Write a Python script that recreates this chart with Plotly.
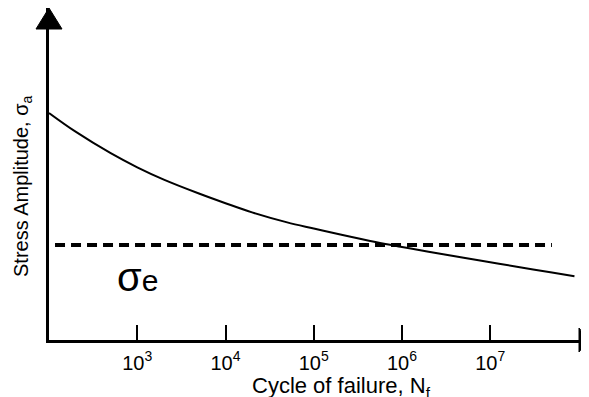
import numpy as np
import plotly.graph_objects as go

# S-N curve (cycles, stress amplitude in arbitrary units)
cycles = [1e2, 2e2, 5e2, 1e3, 2e3, 5e3, 1e4, 2e4, 5e4, 1e5, 2e5, 5e5,
          1e6, 2e6, 5e6, 1e7, 2e7, 5e7, 9e7]
stress = [227, 208.3, 186.8, 172.7, 160.4, 146.5, 136.8, 127.6, 117.6, 111.5,
          105.5, 98.0, 93.0, 88.3, 82.3, 77.8, 73.3, 67.5, 63.8]

# Endurance limit (dashed line)
endurance_limit = 95
endurance_cycles = [1.17e2, 5.0e7]

# Tick labels
tick_vals = [1e3, 1e4, 1e5, 1e6, 1e7]
tick_text = ["10<sup>3</sup>", "10<sup>4</sup>", "10<sup>5</sup>",
             "10<sup>6</sup>", "10<sup>7</sup>"]

FONT = "Arial, Liberation Sans, Helvetica, sans-serif"

fig = go.Figure()
fig.add_trace(go.Scatter(
    x=cycles, y=stress, mode="lines",
    line=dict(color="black", width=2, shape="spline", smoothing=1.0),
    hoverinfo="skip", showlegend=False))
fig.add_trace(go.Scatter(
    x=endurance_cycles, y=[endurance_limit, endurance_limit], mode="lines",
    line=dict(color="black", width=4, dash="10px,6px"),
    hoverinfo="skip", showlegend=False))

# page body has an 8px margin; the figure is sized to fit the window
OFF = 8
W, H = 589 - OFF, 397 - OFF
L, R, T = 49 - OFF, 0, 8 - OFF
pw = W - L - R
ph = 332
B = H - T - ph


def px(xp):
    return (xp - OFF - L) / pw


def py(yp):
    return (T + ph - (yp - OFF)) / ph


fig.update_layout(
    width=W, height=H,
    margin=dict(l=L, r=R, t=T, b=B, pad=0),
    paper_bgcolor="white", plot_bgcolor="white",
    font=dict(family=FONT, color="black", size=15),
    xaxis=dict(type="log", range=[2, 2 + pw / 88.25],
               tickvals=tick_vals, ticktext=tick_text,
               ticks="inside", ticklen=15, tickwidth=2, tickcolor="black",
               ticklabelstandoff=3,
               showline=True, linecolor="black", linewidth=2.5,
               showgrid=False, zeroline=False,
               tickfont=dict(size=20, family=FONT)),
    yaxis=dict(range=[0, ph], showticklabels=False, ticks="",
               showline=True, linecolor="black", linewidth=3,
               showgrid=False, zeroline=False),
    shapes=[
        # y-axis arrowhead
        dict(type="path", xref="paper", yref="paper",
             path=f"M {-13/pw} {(ph-21)/ph} L {13/pw} {(ph-21)/ph} L 0 1 Z",
             fillcolor="black", line=dict(color="black", width=1)),
        # x-axis arrowhead
        dict(type="path", xref="paper", yref="paper",
             path=f"M {(pw-10)/pw} {12/ph} L {(pw-10)/pw} {-12/ph} L 1 0 Z",
             fillcolor="black", line=dict(color="black", width=1)),
    ],
    annotations=[
        dict(text="Cycle of failure, N<sub>f</sub>", xref="paper", yref="paper",
             x=px(341), y=py(387),
             xanchor="center", yanchor="middle", showarrow=False,
             font=dict(size=22, family=FONT)),
        dict(text="Stress Amplitude, σ<sub>a</sub>", xref="paper", yref="paper",
             x=px(22), y=py(186), textangle=-90,
             xanchor="center", yanchor="middle", showarrow=False,
             font=dict(size=20, family=FONT)),
        dict(text="σ<span style='font-size:30px'>e</span>",
             xref="x", yref="y", x=np.log10(1000), y=63,
             xanchor="center", yanchor="middle", showarrow=False,
             font=dict(size=40, family=FONT)),
    ],
)

fig.write_html("out.html")
